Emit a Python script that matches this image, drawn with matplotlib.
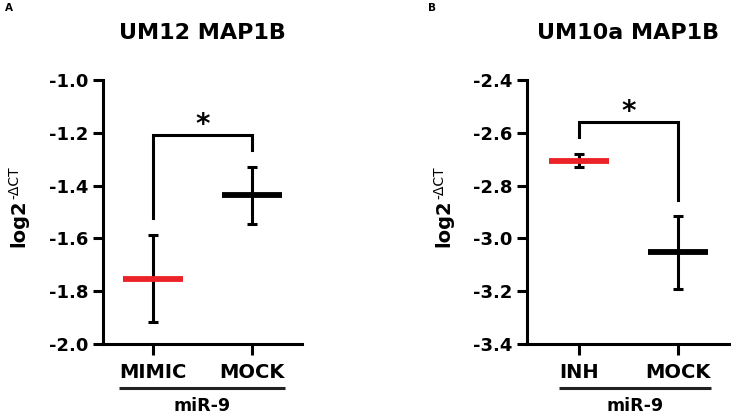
import matplotlib
matplotlib.use('Agg')
import matplotlib.pyplot as plt

plt.rcParams['font.family'] = ['DejaVu Sans']

# Panel A: UM12 MAP1B
a_groups = ['MIMIC', 'MOCK']
a_means = [-1.752, -1.437]
a_sd = [0.164, 0.107]
a_bracket = [-1.524, -1.207, -1.267]   # left leg end, top, right leg end
a_yticks = [-2.0, -1.8, -1.6, -1.4, -1.2, -1.0]

# Panel B: UM10a MAP1B
b_groups = ['INH', 'MOCK']
b_means = [-2.705, -3.052]
b_sd = [0.026, 0.138]
b_bracket = [-2.615, -2.558, -2.853]
b_yticks = [-3.4, -3.2, -3.0, -2.8, -2.6, -2.4]

colors = ['#ec2227', 'black']
lw = 2.2

fig = plt.figure(figsize=(7.31, 4.16), dpi=100)
ax_a = fig.add_axes([103 / 731, 72 / 416, 199 / 731, 264 / 416])
ax_b = fig.add_axes([527 / 731, 72 / 416, 203 / 731, 264 / 416])


def draw_panel(ax, groups, means, sd, bracket, yticks, title, letter, letter_x, ylab_x, xpad):
    x = list(range(len(groups)))
    for i in x:
        ax.errorbar(x[i], means[i], yerr=sd[i], fmt='none', ecolor='black',
                    elinewidth=lw, capsize=3.6, capthick=lw, zorder=2)
        ax.plot([x[i] - 0.3, x[i] + 0.3], [means[i], means[i]], color=colors[i],
                lw=4.2, solid_capstyle='butt', zorder=3)
    # significance bracket
    ax.plot([x[0], x[0], x[1], x[1]], [bracket[0], bracket[1], bracket[1], bracket[2]],
            color='black', lw=lw, solid_joinstyle='miter', zorder=2)
    ax.annotate('*', xy=((x[0] + x[1]) / 2, bracket[1]), xytext=(0, 1.5),
                textcoords='offset points', ha='center', va='baseline',
                fontsize=20, fontweight='bold')

    ax.set_xlim(-0.5 - xpad, 1.5 + xpad)
    ax.set_ylim(yticks[0], yticks[-1])
    ax.set_yticks(yticks)
    ax.set_yticklabels([f'{v:.1f}' for v in yticks], fontsize=13, fontweight='bold')
    ax.set_xticks(x)
    ax.set_xticklabels(groups, fontsize=14, fontweight='bold')
    ax.tick_params(axis='y', length=7.2, width=lw, pad=3)
    ax.tick_params(axis='x', length=8, width=lw, pad=6)
    for s in ['top', 'right']:
        ax.spines[s].set_visible(False)
    for s in ['left', 'bottom']:
        ax.spines[s].set_linewidth(lw)
        ax.spines[s].set_capstyle('projecting')

    # y label: bold "log2" with a thin superscript
    base = fig.text(ylab_x / 731, 1 - 223 / 416, 'log2', rotation=90, ha='center',
                    va='center', fontsize=14, fontweight='bold')
    ax.annotate('-\u0394CT', xy=(0, 1), xycoords=base, xytext=(-1.5, 0),
                textcoords='offset points', rotation=90, ha='left', va='bottom',
                fontsize=10, annotation_clip=False)

    fig.text((ax.get_position().x0 + ax.get_position().x1) / 2, 1 - 33 / 416, title,
             ha='center', va='center', fontsize=16, fontweight='bold')
    fig.text(letter_x, 1 - 8 / 416, letter, ha='left', va='center',
             fontsize=7.5, fontweight='bold')

    # group underline and label
    fig.canvas.draw()
    boxes = [t.get_window_extent() for t in ax.get_xticklabels()]
    inv = ax.transAxes.inverted()
    x0 = inv.transform((min(b.x0 for b in boxes), 0))[0]
    x1 = inv.transform((max(b.x1 for b in boxes), 0))[0]
    ax.plot([x0, x1], [-0.167, -0.167], transform=ax.transAxes, color='#222222',
            lw=lw, clip_on=False, solid_capstyle='butt')
    ax.text((x0 + x1) / 2, -0.236, 'miR-9', transform=ax.transAxes,
            ha='center', va='center', fontsize=12.5, fontweight='bold')


draw_panel(ax_a, a_groups, a_means, a_sd, a_bracket, a_yticks,
           'UM12 MAP1B', 'A', 5 / 731, 18.5, 0.0)
draw_panel(ax_b, b_groups, b_means, b_sd, b_bracket, b_yticks,
           'UM10a MAP1B', 'B', 428 / 731, 444, 0.025)

fig.savefig('out.png', dpi=100)
